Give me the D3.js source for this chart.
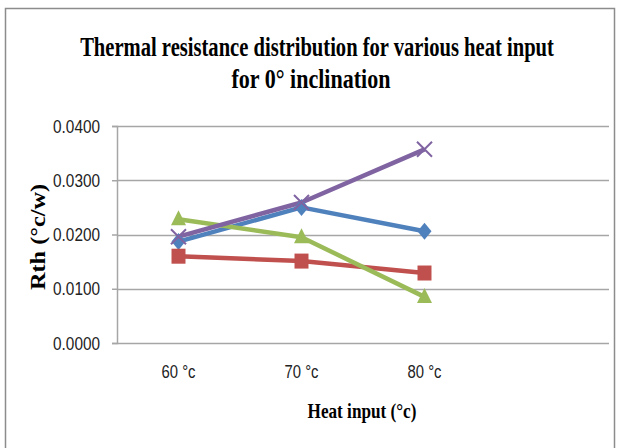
<!DOCTYPE html>
<html>
<head>
<meta charset="utf-8">
<script src="https://cdn.jsdelivr.net/npm/d3@7"></script>
<style>
  body { margin: 0; background: #fff; }
  .ttl { font-family: "Liberation Serif", "Times New Roman", serif; font-weight: bold; fill: #000; }
</style>
</head>
<body>
<script>
// categories and series (Rth in °c/w)
var categories = ["60 °c", "70 °c", "80 °c", ""];
var yTicks = [0, 0.01, 0.02, 0.03, 0.04];
var blueVals = [0.0187, 0.0250, 0.0206];
var redVals = [0.0160, 0.0151, 0.0129];
var greenVals = [0.0228, 0.0195, 0.0085];
var purpleVals = [0.0196, 0.0259, 0.0357];

var series = [
  {vals: blueVals, color: "#4F81BD", marker: "diamond"},
  {vals: redVals, color: "#C0504D", marker: "square"},
  {vals: greenVals, color: "#9BBB59", marker: "triangle"},
  {vals: purpleVals, color: "#8064A2", marker: "x"}
];

var W = 619, H = 448;
var margin = {top: 126, right: 10, bottom: 105, left: 117},
    width = 609 - margin.left,
    height = 343 - margin.top;

var svg = d3.select("body").append("svg")
    .attr("width", W)
    .attr("height", H);

// squeeze a text horizontally to a given width (the original fonts are condensed)
function squeeze(t, w, tx, ty, rot) {
  var n = t.node().getComputedTextLength();
  t.attr("x", 0).attr("transform",
    "translate(" + tx + "," + ty + ")" + (rot ? " rotate(" + rot + ")" : "") + " scale(" + (w / n) + ",1)");
}

// outer chart border
svg.append("rect")
    .attr("x", 5.5).attr("y", 8.5)
    .attr("width", 609).attr("height", 460)
    .attr("fill", "none")
    .attr("stroke", "#8c8c8c")
    .attr("stroke-width", 1.5);

var g = svg.append("g")
    .attr("transform", "translate(" + margin.left + "," + margin.top + ")");

var x = d3.scaleBand().domain(categories).range([0, width]);
var y = d3.scaleLinear().domain([0, 0.04]).range([height, 0]);

// gridlines
g.append("g").selectAll("line")
    .data(yTicks)
    .enter().append("line")
    .attr("x1", 0).attr("x2", width)
    .attr("y1", function(d) { return Math.round(y(d)) + 0.5; })
    .attr("y2", function(d) { return Math.round(y(d)) + 0.5; })
    .attr("stroke", "#a6a6a6")
    .attr("stroke-width", 1.5);

var tickFont = "'Liberation Sans Narrow', 'Liberation Sans', Arial, sans-serif";

// y axis
var yAxis = d3.axisLeft(y).tickValues(yTicks).tickFormat(d3.format(".4f")).tickSize(5).tickPadding(12);
var ya = g.append("g").call(yAxis);
ya.select(".domain").attr("stroke", "#a6a6a6").attr("stroke-width", 1.5);
ya.selectAll(".tick line").attr("stroke", "#a6a6a6").attr("stroke-width", 1.5);
ya.selectAll(".tick text")
    .style("font-family", tickFont).style("font-size", "19px").style("fill", "#222")
    .each(function() { squeeze(d3.select(this), 47, -17, 0); });

// x axis (labels only)
var xAxis = d3.axisBottom(x).tickSize(0).tickPadding(22);
var xa = g.append("g").attr("transform", "translate(0," + height + ")").call(xAxis);
xa.select(".domain").remove();
xa.selectAll(".tick text")
    .style("font-family", tickFont).style("font-size", "19px").style("fill", "#222")
    .filter(function(d) { return d !== ""; })
    .each(function() { squeeze(d3.select(this), 34, 0, 0); });

var line = d3.line()
    .x(function(d, i) { return x(categories[i]) + x.bandwidth() / 2; })
    .y(function(d) { return y(d); });

var markerPath = {
  diamond: "M0,-8.5L7,0L0,8.5L-7,0Z",
  square: "M-7,-7.5H7V7.5H-7Z",
  triangle: "M0,-9L7.5,6H-7.5Z"
};

series.forEach(function(s) {
  g.append("path")
      .datum(s.vals)
      .attr("fill", "none")
      .attr("stroke", s.color)
      .attr("stroke-width", 4.5)
      .attr("stroke-linejoin", "round")
      .attr("d", line);
});

series.forEach(function(s) {
  var m = g.append("g").selectAll("g")
      .data(s.vals)
      .enter().append("g")
      .attr("transform", function(d, i) {
        return "translate(" + (x(categories[i]) + x.bandwidth() / 2) + "," + y(d) + ")";
      });
  if (s.marker === "x") {
    m.append("path")
        .attr("d", "M-7.5,-7.5L7.5,7.5M-7.5,7.5L7.5,-7.5")
        .attr("stroke", s.color)
        .attr("stroke-width", 2);
  } else {
    m.append("path")
        .attr("d", markerPath[s.marker])
        .attr("fill", s.color);
  }
});

// titles
var t1 = svg.append("text").attr("class", "ttl")
    .attr("text-anchor", "middle")
    .attr("font-size", 28)
    .text("Thermal resistance distribution for various heat input");
squeeze(t1, 474, 317, 56);

var t2 = svg.append("text").attr("class", "ttl")
    .attr("text-anchor", "middle")
    .attr("font-size", 28)
    .text("for 0° inclination");
squeeze(t2, 159, 311, 88);

var t3 = svg.append("text").attr("class", "ttl")
    .attr("text-anchor", "middle")
    .attr("font-size", 21)
    .text("Rth (°c/w)");
squeeze(t3, 106, 45, 237, -90);

var t4 = svg.append("text").attr("class", "ttl")
    .attr("text-anchor", "middle")
    .attr("font-size", 22)
    .text("Heat input  (°c)");
squeeze(t4, 109, 362, 418);
</script>
</body>
</html>
